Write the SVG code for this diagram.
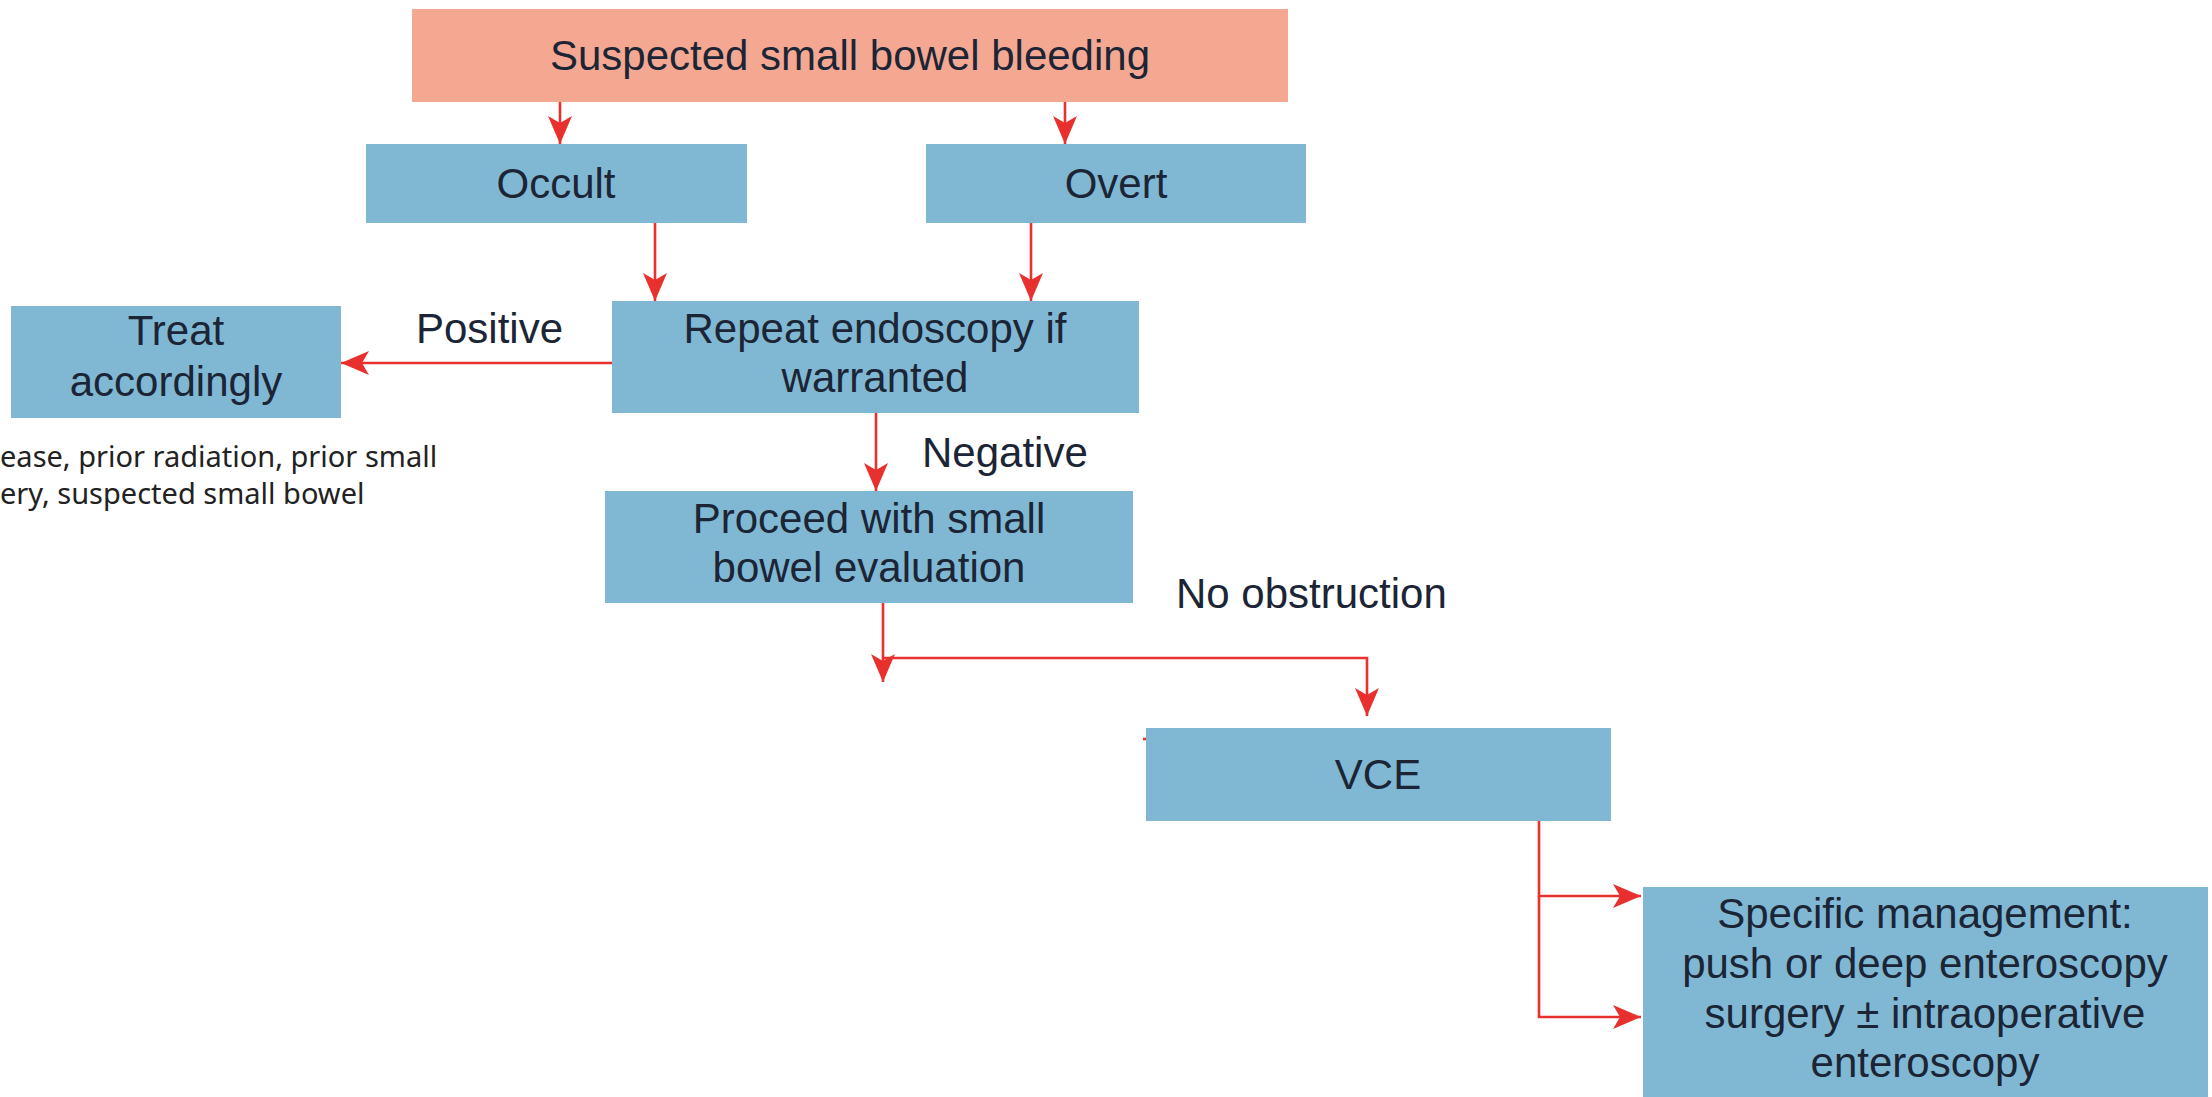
<svg xmlns="http://www.w3.org/2000/svg" width="2212" height="1097" viewBox="0 0 2212 1097">
<style>
.box{fill:#80b8d3;}
.top{fill:#f5a891;}
.t{font-family:"Liberation Sans",Arial,sans-serif;font-size:42px;fill:#1b2535;text-anchor:middle;}
.lbl{font-family:"Liberation Sans",Arial,sans-serif;font-size:42px;fill:#1b2535;}
.note{font-family:"Noto Sans",sans-serif;font-size:29px;fill:#222;}
.c{stroke:#e8312e;stroke-width:2.6;fill:none;}
</style>
<defs>
<marker id="ah" markerUnits="userSpaceOnUse" markerWidth="30" markerHeight="26" refX="28" refY="12" orient="auto" overflow="visible">
<path d="M0,0 L28,12 L0,24 L7,12 z" fill="#e8312e"/>
</marker>
</defs>
<rect width="2212" height="1097" fill="#ffffff"/>

<g id="note">
<text class="note" x="0" y="467">ease, prior radiation, prior small</text>
<text class="note" x="0" y="504">ery, suspected small bowel</text>
</g>

<g id="connectors">
<line class="c" x1="560" y1="102" x2="560" y2="144" marker-end="url(#ah)"/>
<line class="c" x1="1065" y1="102" x2="1065" y2="144" marker-end="url(#ah)"/>
<line class="c" x1="655" y1="223" x2="655" y2="301" marker-end="url(#ah)"/>
<line class="c" x1="1031" y1="223" x2="1031" y2="301" marker-end="url(#ah)"/>
<line class="c" x1="612" y1="363" x2="341" y2="363" marker-end="url(#ah)"/>
<line class="c" x1="876" y1="413" x2="876" y2="491" marker-end="url(#ah)"/>
<line class="c" x1="883" y1="603" x2="883" y2="682" marker-end="url(#ah)"/>
<polyline class="c" points="883,658 1367,658 1367,716" marker-end="url(#ah)"/>
<line class="c" x1="1143" y1="739" x2="1150" y2="739"/>
<polyline class="c" points="1539,821 1539,896 1641,896" marker-end="url(#ah)"/>
<polyline class="c" points="1539,896 1539,1017 1641,1017" marker-end="url(#ah)"/>
<text class="lbl" x="416" y="343">Positive</text>
<text class="lbl" x="922" y="467">Negative</text>
<text class="lbl" x="1176" y="608">No obstruction</text>
</g>

<g id="n-suspected">
<rect class="top" x="412" y="9" width="876" height="93"/>
<text class="t" x="850" y="70">Suspected small bowel bleeding</text>
</g>
<g id="n-occult">
<rect class="box" x="366" y="144" width="381" height="79"/>
<text class="t" x="556" y="198">Occult</text>
</g>
<g id="n-overt">
<rect class="box" x="926" y="144" width="380" height="79"/>
<text class="t" x="1116" y="198">Overt</text>
</g>
<g id="n-repeat">
<rect class="box" x="612" y="301" width="527" height="112"/>
<text class="t" x="875" y="343">Repeat endoscopy if</text>
<text class="t" x="875" y="392">warranted</text>
</g>
<g id="n-treat">
<rect class="box" x="11" y="306" width="330" height="112"/>
<text class="t" x="176" y="345">Treat</text>
<text class="t" x="176" y="396">accordingly</text>
</g>
<g id="n-proceed">
<rect class="box" x="605" y="491" width="528" height="112"/>
<text class="t" x="869" y="533">Proceed with small</text>
<text class="t" x="869" y="582">bowel evaluation</text>
</g>
<g id="n-vce">
<rect class="box" x="1146" y="728" width="465" height="93"/>
<text class="t" x="1378" y="789">VCE</text>
</g>
<g id="n-specific">
<rect class="box" x="1643" y="887" width="565" height="210"/>
<text class="t" x="1925" y="928">Specific management:</text>
<text class="t" x="1925" y="978">push or deep enteroscopy</text>
<text class="t" x="1925" y="1028">surgery ± intraoperative</text>
<text class="t" x="1925" y="1077">enteroscopy</text>
</g>
</svg>
